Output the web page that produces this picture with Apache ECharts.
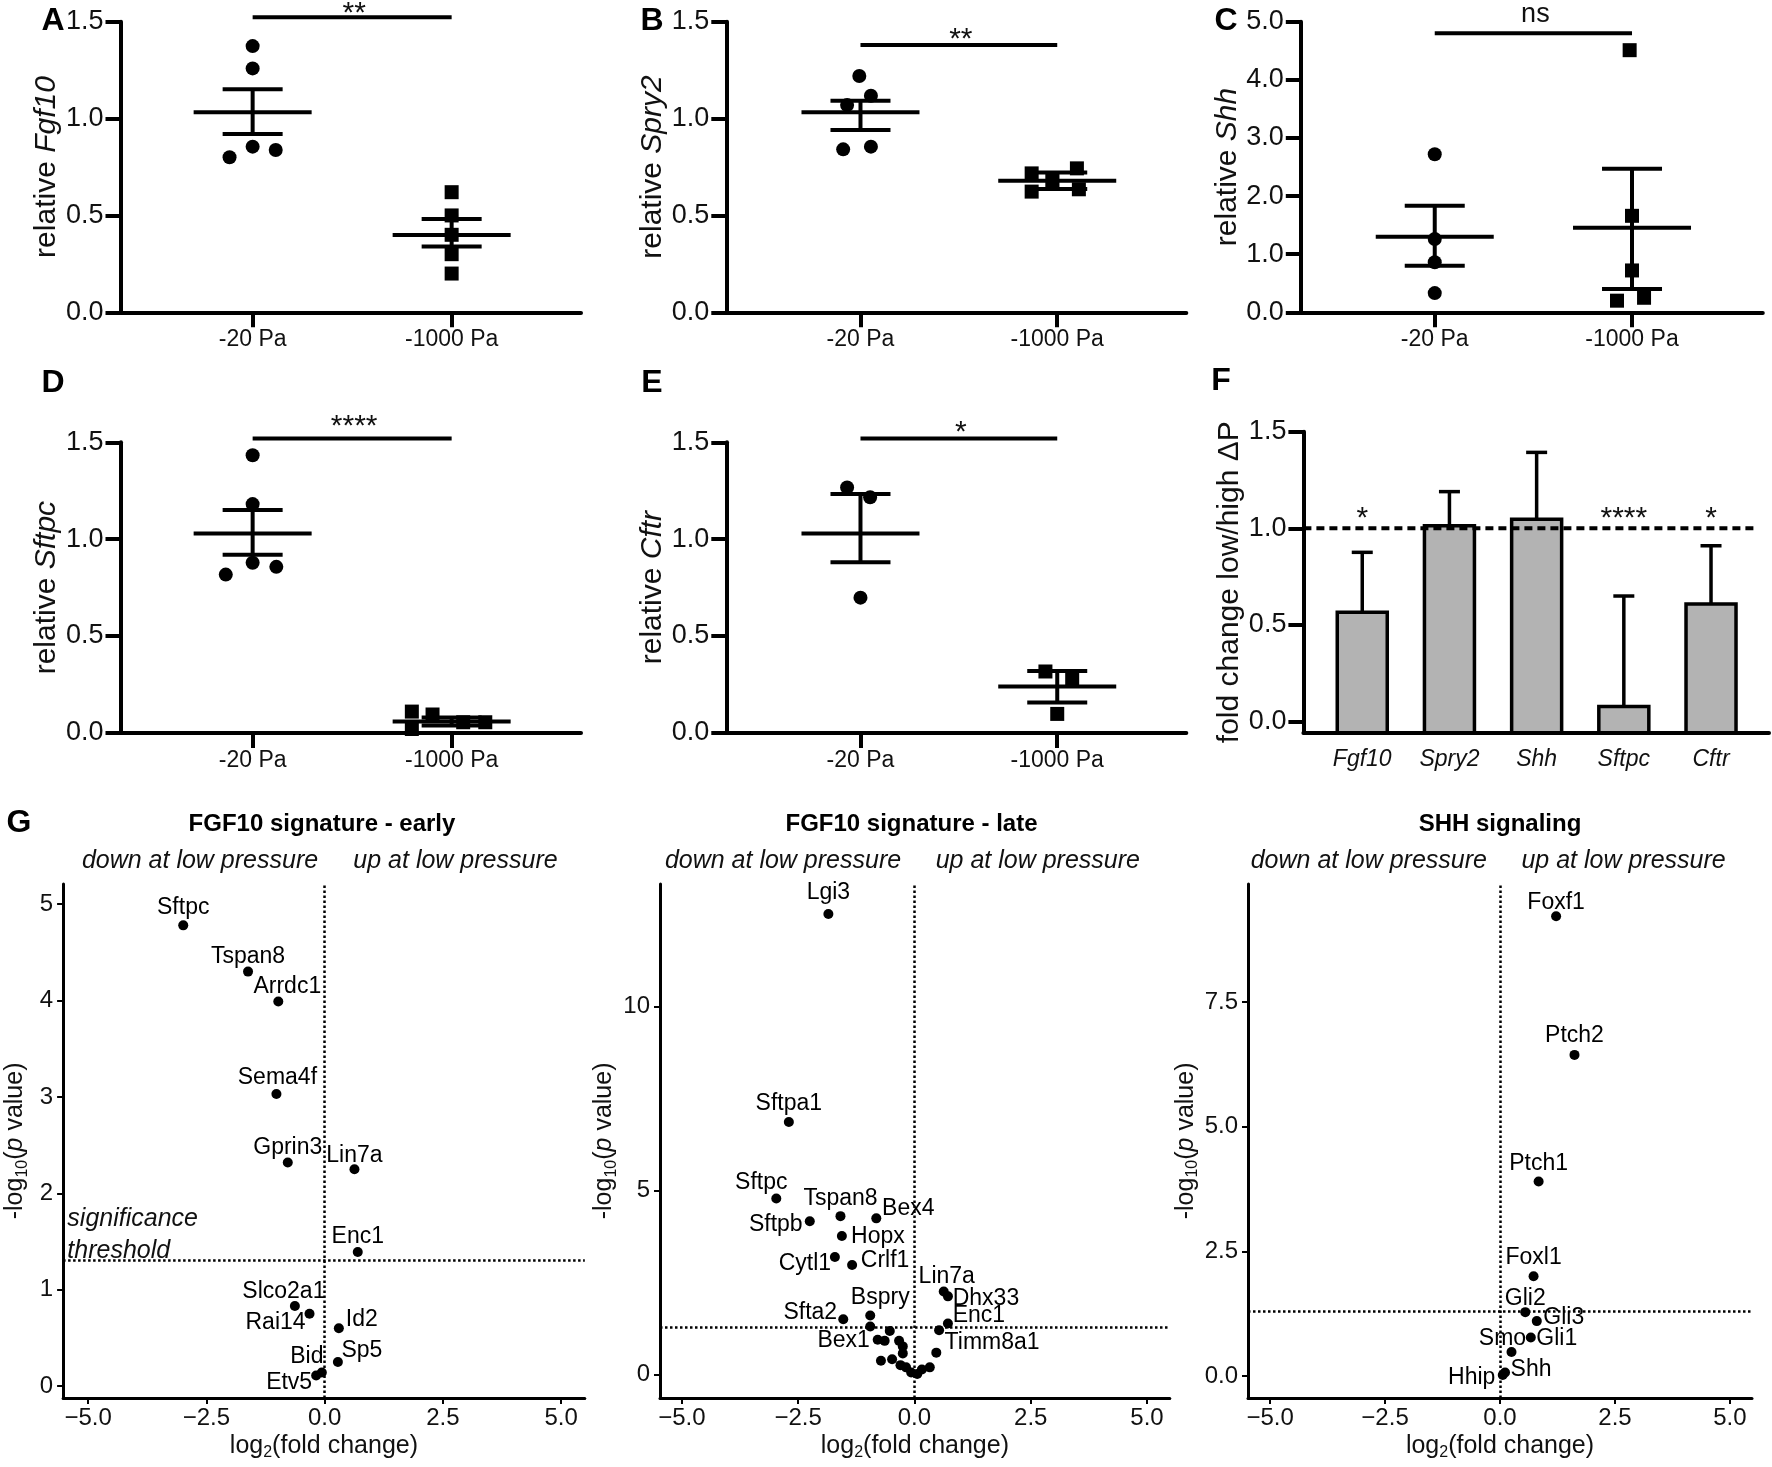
<!DOCTYPE html>
<html><head><meta charset="utf-8">
<script src="https://cdn.jsdelivr.net/npm/echarts@6/dist/echarts.min.js"></script>
<style>html,body{margin:0;padding:0;background:#fff}#c{width:1772px;height:1467px}</style>
</head><body><div id="c"></div>
<script>
// ================= DATA =================
const topCategories = ['-20 Pa', '-1000 Pa'];

// Panel A: relative Fgf10
const fgf10Low = [1.374, 1.259, 0.80, 0.855, 0.838];
const fgf10LowJitter = [0, 0, -0.116, 0, 0.116];
const fgf10High = [0.62, 0.50, 0.40, 0.30, 0.20];
const fgf10HighJitter = [0, 0, 0, 0, 0];
const fgf10Mean = [1.032, 0.399];
const fgf10SemLo = [0.920, 0.339];
const fgf10SemHi = [1.151, 0.482];
const fgf10SigY = 1.523, fgf10Sig = '**';

// Panel B: relative Spry2
const spry2Low = [1.220, 1.118, 1.070, 0.841, 0.855];
const spry2LowJitter = [-0.006, 0.053, -0.068, -0.088, 0.053];
const spry2High = [0.717, 0.623, 0.678, 0.743, 0.635];
const spry2HighJitter = [-0.13, -0.13, -0.025, 0.10, 0.11];
const spry2Mean = [1.032, 0.679];
const spry2SemLo = [0.941, 0.636];
const spry2SemHi = [1.092, 0.722];
const spry2SigY = 1.38, spry2Sig = '**';

// Panel C: relative Shh
const shhLow = [2.72, 1.26, 0.86, 0.33];
const shhLowJitter = [0, 0, 0, 0];
const shhHigh = [4.51, 1.66, 0.72, 0.20, 0.25];
const shhHighJitter = [-0.012, 0, 0, -0.076, 0.061];
const shhMean = [1.30, 1.456];
const shhSemLo = [0.80, 0.40];
const shhSemHi = [1.835, 2.47];
const shhSigY = 4.80, shhSig = 'ns';

// Panel D: relative Sftpc
const sftpcLow = [1.433, 1.181, 0.817, 0.878, 0.857];
const sftpcLowJitter = [0, 0, -0.135, 0, 0.119];
const sftpcHigh = [0.110, 0.095, 0.02, 0.055, 0.055];
const sftpcHighJitter = [-0.20, -0.096, -0.20, 0.058, 0.169];
const sftpcMean = [1.029, 0.059];
const sftpcSemLo = [0.919, 0.038];
const sftpcSemHi = [1.15, 0.080];
const sftpcSigY = 1.519, sftpcSig = '****';

// Panel E: relative Cftr
const cftrLow = [1.267, 1.216, 0.698];
const cftrLowJitter = [-0.068, 0.049, 0];
const cftrHigh = [0.317, 0.274, 0.098];
const cftrHighJitter = [-0.06, 0.076, 0];
const cftrMean = [1.029, 0.240];
const cftrSemLo = [0.881, 0.157];
const cftrSemHi = [1.233, 0.319];
const cftrSigY = 1.519, cftrSig = '*';

// Panel F: fold change low/high ΔP
const foldGenes = ['Fgf10', 'Spry2', 'Shh', 'Sftpc', 'Cftr'];
const foldChange = [0.566, 1.014, 1.047, 0.078, 0.609];
const foldErrorTop = [0.876, 1.19, 1.393, 0.65, 0.91];
const foldSig = ['*', '', '', '****', '*'];
const foldSigY = 1.08;
const foldReference = 1.0;
const foldYTicks = [0, 0.5, 1.0, 1.5];

// Panel G: volcano plots
const volcanoXTicks = [-5, -2.5, 0, 2.5, 5];
const significanceThreshold = 1.30103;

const earlyGenes = ['Sftpc','Tspan8','Arrdc1','Sema4f','Gprin3','Lin7a','Enc1','Slco2a1','Rai14','Id2','Sp5','Bid','Etv5'];
const earlyLog2FC = [-2.99,-1.62,-0.98,-1.02,-0.78,0.63,0.70,-0.63,-0.32,0.30,0.28,-0.06,-0.18];
const earlyNegLogP = [4.78,4.30,3.99,3.03,2.32,2.25,1.39,0.83,0.75,0.60,0.25,0.14,0.11];
const earlyYTicks = [0, 1, 2, 3, 4, 5];

const lateGenes = ['Lgi3','Sftpa1','Sftpc','Tspan8','Sftpb','Bex4','Hopx','Cytl1','Crlf1','Lin7a','Dhx33','Bspry','Sfta2','Enc1','Timm8a1','Bex1',
  '','','','','','','','','','','','','','',''];
const lateLog2FC = [-1.85,-2.70,-2.97,-1.59,-2.25,-0.82,-1.56,-1.71,-1.34,0.63,0.72,-0.95,-1.53,0.72,0.53,-0.79,
  -0.95,-0.53,-0.64,-0.33,-0.25,-0.25,-0.72,-0.48,-0.30,-0.18,-0.07,0.06,0.16,0.33,0.47];
const lateNegLogP = [12.52,6.87,4.79,4.31,4.17,4.25,3.77,3.20,2.98,2.26,2.13,1.61,1.51,1.39,1.21,0.95,
  1.31,1.19,0.92,0.92,0.77,0.58,0.38,0.42,0.26,0.20,0.06,0.02,0.14,0.20,0.60];
const lateYTicks = [0, 5, 10];

const shhGenes = ['Foxf1','Ptch2','Ptch1','Foxl1','Gli2','Gli3','Gli1','Smo','Shh','Hhip'];
const shhLog2FC = [1.22,1.62,0.84,0.73,0.55,0.80,0.67,0.25,0.11,0.06];
const shhNegLogP = [9.22,6.44,3.90,2.00,1.28,1.10,0.77,0.48,0.07,0.02];
const shhYTicks = [0, 2.5, 5, 7.5];

// ================= LAYOUT / STYLE =================
const FONT = "'Liberation Sans', Arial, Helvetica, sans-serif";
const NARROW = "'Liberation Sans Narrow', 'Arial Narrow', 'Liberation Sans', sans-serif";
const INK = '#000';
const TXT = '#111';

const earlyLabelOffset = {Sftpc:[0,-18],Tspan8:[0,-15],Arrdc1:[9,-15],Sema4f:[1,-16],Gprin3:[0,-15],Lin7a:[0,-14],Enc1:[0,-15],
  Slco2a1:[-11,-14],Rai14:[-34,9],Id2:[23,-9],Sp5:[24,-11],Bid:[-15,-16],Etv5:[-27,7]};
const lateLabelOffset = {Lgi3:[0,-21],Sftpa1:[0,-18],Sftpc:[-15,-16],Tspan8:[0,-17],Sftpb:[-34,3],Bex4:[32,-10],Hopx:[36,1],
  Cytl1:[-30,7],Crlf1:[33,-4],Lin7a:[3,-15],Dhx33:[38,2],Bspry:[10,-18],Sfta2:[-33,-7],Enc1:[31,-8],Timm8a1:[53,12],Bex1:[-34,1]};
const shhLabelOffset = {Foxf1:[0,-14],Ptch2:[0,-19],Ptch1:[0,-18],Foxl1:[0,-19],Gli2:[0,-13],Gli3:[27,-3],Gli1:[26,1],
  Smo:[-9,-13],Shh:[26,-3],Hhip:[-31,3]};

const topPanels = [
  {gene:'Fgf10', low:fgf10Low, lowJ:fgf10LowJitter, high:fgf10High, highJ:fgf10HighJitter, mean:fgf10Mean, lo:fgf10SemLo, hi:fgf10SemHi, sigY:fgf10SigY, sig:fgf10Sig, ymax:1.5, yint:0.5,
   left:120.5, top:21.7, width:460.5, xmin:0.336, xmax:2.65, sigDy:-4},
  {gene:'Spry2', low:spry2Low, lowJ:spry2LowJitter, high:spry2High, highJ:spry2HighJitter, mean:spry2Mean, lo:spry2SemLo, hi:spry2SemHi, sigY:spry2SigY, sig:spry2Sig, ymax:1.5, yint:0.5,
   left:726.3, top:21.7, width:460, xmin:0.318, xmax:2.656, sigDy:-5},
  {gene:'Shh', low:shhLow, lowJ:shhLowJitter, high:shhHigh, highJ:shhHighJitter, mean:shhMean, lo:shhSemLo, hi:shhSemHi, sigY:shhSigY, sig:shhSig, ymax:5, yint:1,
   left:1300.8, top:21.7, width:462, xmin:0.321, xmax:2.663, sigDy:-19},
  {gene:'Sftpc', low:sftpcLow, lowJ:sftpcLowJitter, high:sftpcHigh, highJ:sftpcHighJitter, mean:sftpcMean, lo:sftpcSemLo, hi:sftpcSemHi, sigY:sftpcSigY, sig:sftpcSig, ymax:1.5, yint:0.5,
   left:120.5, top:442.3, width:460.5, xmin:0.336, xmax:2.65, sigDy:-12},
  {gene:'Cftr', low:cftrLow, lowJ:cftrLowJitter, high:cftrHigh, highJ:cftrHighJitter, mean:cftrMean, lo:cftrSemLo, hi:cftrSemHi, sigY:cftrSigY, sig:cftrSig, ymax:1.5, yint:0.5,
   left:726.3, top:442.3, width:460, xmin:0.318, xmax:2.656, sigDy:-6}
];
const TOP_H = 290.6;

const F = {left:1303.4, top:431.7, width:465.6, height:301, xmin:0.325, xmax:5.665, ymin:-0.057, ymax:1.5, refEnd:5.51};

const volcanoPanels = [
  {genes:earlyGenes, fc:earlyLog2FC, p:earlyNegLogP, off:earlyLabelOffset, yTicks:earlyYTicks, yFmt:v=>String(v),
   left:63.1, width:521.7, xmin:-5.53, xmax:5.50, ymin:-0.123, ymax:5.21, nameGap:33,
   title:'FGF10 signature - early', cx:322, downX:200, upX:455.5},
  {genes:lateGenes, fc:lateLog2FC, p:lateNegLogP, off:lateLabelOffset, yTicks:lateYTicks, yFmt:v=>String(v),
   left:660, width:509.8, xmin:-5.47, xmax:5.49, ymin:-0.63, ymax:13.34, nameGap:36,
   title:'FGF10 signature - late', cx:911.5, downX:783, upX:1037.8},
  {genes:shhGenes, fc:shhLog2FC, p:shhNegLogP, off:shhLabelOffset, yTicks:shhYTicks, yFmt:v=>v.toFixed(1),
   left:1248, width:504, xmin:-5.48, xmax:5.48, ymin:-0.44, ymax:9.87, nameGap:47,
   title:'SHH signaling', cx:1500, downX:1368.8, upX:1623.6}
];
const V_TOP = 883.9, V_H = 514;

// ================= BUILD =================
const grids = [], xAxes = [], yAxes = [], series = [];

function errRender(meanHalf, capHalf) {
  return function (params, api) {
    const x = api.value(0);
    const pm = api.coord([x, api.value(1)]), pl = api.coord([x, api.value(2)]), ph = api.coord([x, api.value(3)]);
    const st = {stroke: INK, lineWidth: 4};
    return {type: 'group', children: [
      {type: 'line', shape: {x1: pm[0] - meanHalf, y1: pm[1], x2: pm[0] + meanHalf, y2: pm[1]}, style: st},
      {type: 'line', shape: {x1: pl[0] - capHalf, y1: pl[1], x2: pl[0] + capHalf, y2: pl[1]}, style: st},
      {type: 'line', shape: {x1: ph[0] - capHalf, y1: ph[1], x2: ph[0] + capHalf, y2: ph[1]}, style: st},
      {type: 'line', shape: {x1: pl[0], y1: pl[1], x2: ph[0], y2: ph[1]}, style: st}
    ]};
  };
}

function sigRender(text, dy) {
  return function (params, api) {
    const y = api.value(2);
    const p1 = api.coord([api.value(0), y]), p2 = api.coord([api.value(1), y]);
    const isStar = text.indexOf('*') >= 0;
    return {type: 'group', children: [
      {type: 'line', shape: {x1: p1[0], y1: p1[1], x2: p2[0], y2: p2[1]}, style: {stroke: INK, lineWidth: 4}},
      {type: 'text', x: (p1[0] + p2[0]) / 2 + 2, y: p1[1] + dy,
       style: {text: text, fill: TXT, font: (isStar ? '30px ' : '27px ') + FONT, textAlign: 'center', textVerticalAlign: 'middle'}}
    ]};
  };
}

topPanels.forEach((c, idx) => {
  grids.push({left: c.left, top: c.top, width: c.width, height: TOP_H, outerBoundsMode: 'none', containLabel: false});
  xAxes.push({gridIndex: idx, type: 'value', min: c.xmin, max: c.xmax,
    axisLine: {onZero: false, lineStyle: {color: INK, width: 4}},
    axisTick: {show: true, customValues: [1, 2], length: 15, lineStyle: {color: INK, width: 4}},
    axisLabel: {customValues: [1, 2], formatter: v => topCategories[Math.round(v) - 1], fontSize: 23, fontFamily: FONT, color: TXT, margin: 16},
    splitLine: {show: false}});
  yAxes.push({gridIndex: idx, type: 'value', min: 0, max: c.ymax, interval: c.yint,
    axisLine: {show: true, onZero: false, lineStyle: {color: INK, width: 4}},
    axisTick: {show: true, length: 15, lineStyle: {color: INK, width: 4}},
    axisLabel: {formatter: v => v.toFixed(1), fontSize: 27, fontFamily: NARROW, color: TXT, margin: 17},
    splitLine: {show: false},
    name: '{a|relative }{i|' + c.gene + '}', nameLocation: 'middle', nameRotate: 90, nameGap: 51,
    nameTextStyle: {rich: {a: {fontSize: 30, fontFamily: FONT, color: TXT}, i: {fontSize: 30, fontFamily: FONT, fontStyle: 'italic', color: TXT}}}});
  series.push({type: 'scatter', xAxisIndex: idx, yAxisIndex: idx, symbol: 'circle', symbolSize: 14, silent: true,
    itemStyle: {color: INK, opacity: 1}, data: c.low.map((v, i) => [1 + c.lowJ[i], v]), z: 2});
  series.push({type: 'scatter', xAxisIndex: idx, yAxisIndex: idx, symbol: 'rect', symbolSize: 14, silent: true,
    itemStyle: {color: INK, opacity: 1}, data: c.high.map((v, i) => [2 + c.highJ[i], v]), z: 2});
  series.push({type: 'custom', xAxisIndex: idx, yAxisIndex: idx, clip: false, silent: true, z: 3,
    renderItem: errRender(59, 30), data: [0, 1].map(g => [g + 1, c.mean[g], c.lo[g], c.hi[g]])});
  series.push({type: 'custom', xAxisIndex: idx, yAxisIndex: idx, clip: false, silent: true, z: 3,
    renderItem: sigRender(c.sig, c.sigDy), data: [[1, 2, c.sigY]]});
});

// Panel F
const fIdx = 5;
grids.push({left: F.left, top: F.top, width: F.width, height: F.height, outerBoundsMode: 'none', containLabel: false});
xAxes.push({gridIndex: fIdx, type: 'value', min: F.xmin, max: F.xmax,
  axisLine: {onZero: false, lineStyle: {color: INK, width: 4}},
  axisTick: {show: false, customValues: [1, 2, 3, 4, 5]},
  axisLabel: {customValues: [1, 2, 3, 4, 5], formatter: v => foldGenes[Math.round(v) - 1], fontSize: 23, fontStyle: 'italic', fontFamily: FONT, color: TXT, margin: 15},
  splitLine: {show: false}});
yAxes.push({gridIndex: fIdx, type: 'value', min: F.ymin, max: F.ymax,
  axisLine: {show: true, onZero: false, lineStyle: {color: INK, width: 4}},
  axisTick: {show: true, customValues: foldYTicks, length: 15, lineStyle: {color: INK, width: 4}},
  axisLabel: {customValues: foldYTicks, formatter: v => v.toFixed(1), fontSize: 27, fontFamily: NARROW, color: TXT, margin: 17},
  splitLine: {show: false},
  name: 'fold change low/high \u0394P', nameLocation: 'middle', nameRotate: 90, nameGap: 53,
  nameTextStyle: {fontSize: 30, fontFamily: FONT, color: TXT}});
series.push({type: 'custom', xAxisIndex: fIdx, yAxisIndex: fIdx, clip: false, silent: true, z: 2,
  data: foldGenes.map((g, i) => [i + 1, foldChange[i], foldErrorTop[i]]),
  renderItem: function (params, api) {
    const x = api.value(0);
    const base = api.coord([x, F.ymin]), top = api.coord([x, api.value(1)]), e = api.coord([x, api.value(2)]);
    const st = {stroke: INK, lineWidth: 3.5};
    return {type: 'group', children: [
      {type: 'line', shape: {x1: top[0], y1: top[1], x2: e[0], y2: e[1]}, style: st},
      {type: 'line', shape: {x1: e[0] - 10.5, y1: e[1], x2: e[0] + 10.5, y2: e[1]}, style: st},
      {type: 'rect', shape: {x: top[0] - 25, y: top[1], width: 50, height: base[1] - top[1]}, style: {fill: '#b3b3b3', stroke: INK, lineWidth: 3.5}}
    ]};
  }});
series.push({type: 'custom', xAxisIndex: fIdx, yAxisIndex: fIdx, clip: false, silent: true, z: 4,
  data: [[foldReference]],
  renderItem: function (params, api) {
    const v = api.value(0);
    const a = api.coord([F.xmin, v]), b = api.coord([F.refEnd, v]);
    return {type: 'line', shape: {x1: a[0], y1: a[1], x2: b[0], y2: b[1]}, style: {stroke: INK, lineWidth: 4, lineDash: [8, 5]}};
  }});
series.push({type: 'custom', xAxisIndex: fIdx, yAxisIndex: fIdx, clip: false, silent: true, z: 4,
  data: foldGenes.map((g, i) => [i + 1, foldSigY]),
  renderItem: function (params, api) {
    const t = foldSig[params.dataIndex];
    const p = api.coord([api.value(0), api.value(1)]);
    return {type: 'text', x: p[0], y: p[1] + 6, style: {text: t, fill: TXT, font: '30px ' + FONT, textAlign: 'center', textVerticalAlign: 'middle'}};
  }});

// Volcano panels
const volcX = v => (v < 0 ? '\u2212' : '') + Math.abs(v).toFixed(1);
volcanoPanels.forEach((c, k) => {
  const idx = 6 + k;
  grids.push({left: c.left, top: V_TOP, width: c.width, height: V_H, outerBoundsMode: 'none', containLabel: false});
  xAxes.push({gridIndex: idx, type: 'value', min: c.xmin, max: c.xmax,
    axisLine: {onZero: false, lineStyle: {color: '#000', width: 3}},
    axisTick: {show: true, customValues: volcanoXTicks, length: 6, lineStyle: {color: '#000', width: 2}},
    axisLabel: {customValues: volcanoXTicks, formatter: volcX, fontSize: 24, fontFamily: FONT, color: TXT, margin: 8},
    splitLine: {show: false},
    name: '{a|log}{s|2}{a|(fold change)}', nameLocation: 'middle', nameGap: 33,
    nameTextStyle: {rich: {a: {fontSize: 25, fontFamily: FONT, color: TXT}, s: {fontSize: 16, fontFamily: FONT, color: TXT, padding: [14, 0, 0, 0]}}}});
  yAxes.push({gridIndex: idx, type: 'value', min: c.ymin, max: c.ymax,
    axisLine: {show: true, onZero: false, lineStyle: {color: '#000', width: 3}},
    axisTick: {show: true, customValues: c.yTicks, length: 6, lineStyle: {color: '#000', width: 2}},
    axisLabel: {customValues: c.yTicks, formatter: c.yFmt, fontSize: 24, fontFamily: FONT, color: TXT, margin: 10},
    splitLine: {show: false},
    name: '{a|-log}{s|10}{a|(}{i|p}{a| value)}', nameLocation: 'middle', nameRotate: 90, nameGap: c.nameGap,
    nameTextStyle: {rich: {a: {fontSize: 25, fontFamily: FONT, color: TXT}, i: {fontSize: 25, fontFamily: FONT, fontStyle: 'italic', color: TXT},
      s: {fontSize: 16, fontFamily: FONT, color: TXT, padding: [14, 0, 0, 0]}}}});
  series.push({type: 'scatter', xAxisIndex: idx, yAxisIndex: idx, symbol: 'circle', symbolSize: 10, silent: true,
    itemStyle: {color: '#000', opacity: 1},
    data: c.genes.map((g, i) => {
      const o = c.off[g] || [0, 0];
      return {value: [c.fc[i], c.p[i]], name: g,
        label: {show: g !== '', formatter: g, position: 'inside', offset: o, align: 'center', verticalAlign: 'middle',
          fontSize: 23, fontFamily: FONT, color: '#000', opacity: 1}};
    }),
    markLine: {silent: true, symbol: ['none', 'none'], label: {show: false}, animation: false,
      lineStyle: {type: 'dotted', width: 2.5, color: '#000', opacity: 1},
      data: [{xAxis: 0}, {yAxis: significanceThreshold}]},
    z: 3});
});
// significance threshold annotation (early panel)
series.push({type: 'custom', xAxisIndex: 6, yAxisIndex: 6, clip: false, silent: true, z: 4,
  data: [[-5.44, significanceThreshold]],
  renderItem: function (params, api) {
    const p = api.coord([api.value(0), api.value(1)]);
    return {type: 'text', x: p[0], y: p[1] + 6, style: {text: 'significance\nthreshold', fill: TXT, font: 'italic 25px ' + FONT, lineHeight: 32, textAlign: 'left', textVerticalAlign: 'bottom'}};
  }});

// Graphic texts: panel letters, volcano titles and subtitles
const graphics = [];
const letters = [['A', 53, 21], ['B', 652, 21], ['C', 1226, 21], ['D', 53, 383], ['E', 652, 383], ['F', 1221, 381], ['G', 19, 823]];
letters.forEach(([t, x, y]) => graphics.push({type: 'text', x: x, y: y,
  style: {text: t, font: 'bold 32px ' + FONT, fill: '#000', textAlign: 'center', textVerticalAlign: 'middle'}}));
volcanoPanels.forEach(c => {
  graphics.push({type: 'text', x: c.cx, y: 824, style: {text: c.title, font: 'bold 24px ' + FONT, fill: '#000', textAlign: 'center', textVerticalAlign: 'middle'}});
  graphics.push({type: 'text', x: c.downX, y: 861, style: {text: 'down at low pressure', font: 'italic 25px ' + FONT, fill: TXT, textAlign: 'center', textVerticalAlign: 'middle'}});
  graphics.push({type: 'text', x: c.upX, y: 861, style: {text: 'up at low pressure', font: 'italic 25px ' + FONT, fill: TXT, textAlign: 'center', textVerticalAlign: 'middle'}});
});

const chart = echarts.init(document.getElementById('c'), null, {renderer: 'canvas'});
chart.setOption({
  backgroundColor: '#fff', animation: false,
  textStyle: {fontFamily: FONT},
  grid: grids, xAxis: xAxes, yAxis: yAxes, series: series, graphic: graphics
});
</script></body></html>
